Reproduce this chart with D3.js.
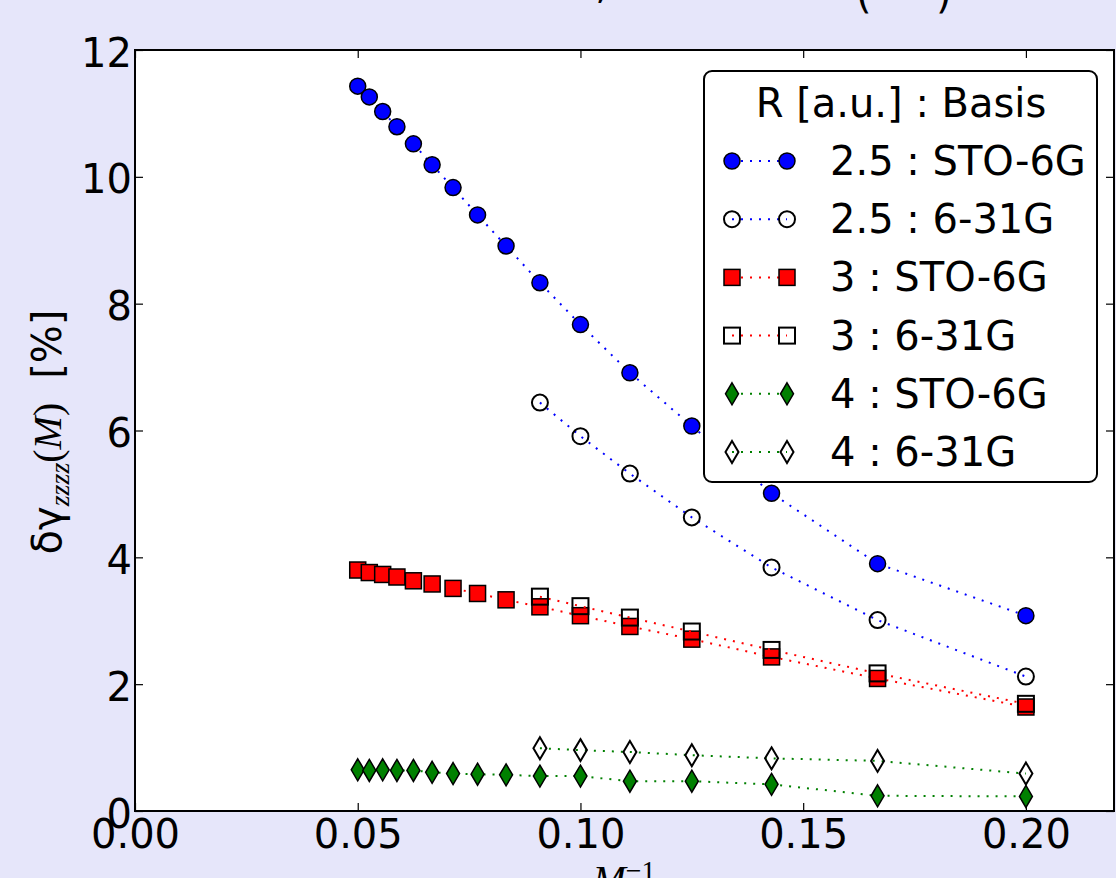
<!DOCTYPE html>
<html>
<head>
<meta charset="utf-8">
<script src="https://cdn.jsdelivr.net/npm/d3@7"></script>
<style>
  html, body { margin: 0; padding: 0; background: #e6e6fa; }
  svg { display: block; }
  text { font-family: "DejaVu Sans", sans-serif; fill: #000; }
</style>
</head>
<body>
<svg id="chart" width="1116" height="878"></svg>
<script>
// Inverse chain length M^-1 (M = 20 ... 5 for STO-6G, M = 11 ... 5 for 6-31G)
const invM_sto = [0.0500, 0.0526, 0.0556, 0.0588, 0.0625, 0.0667, 0.0714, 0.0769,
                  0.0833, 0.0909, 0.1000, 0.1111, 0.1250, 0.1429, 0.1667, 0.2000];
const invM_631 = [0.0909, 0.1000, 0.1111, 0.1250, 0.1429, 0.1667, 0.2000];

// Relative error of gamma_zzzz in percent
const r25_sto = [11.43, 11.26, 11.03, 10.79, 10.52, 10.19, 9.83, 9.40,
                 8.91, 8.33, 7.67, 6.91, 6.07, 5.01, 3.90, 3.08];
const r25_631 = [6.44, 5.91, 5.32, 4.63, 3.84, 3.01, 2.12];
const r3_sto  = [3.80, 3.76, 3.73, 3.69, 3.63, 3.58, 3.51, 3.43,
                 3.33, 3.22, 3.08, 2.91, 2.71, 2.43, 2.09, 1.64];
const r3_631  = [3.38, 3.23, 3.05, 2.83, 2.54, 2.17, 1.69];
const r4_sto  = [0.65, 0.64, 0.65, 0.64, 0.64, 0.61, 0.59, 0.58,
                 0.57, 0.55, 0.55, 0.47, 0.47, 0.42, 0.24, 0.23];
const r4_631  = [0.99, 0.96, 0.93, 0.88, 0.83, 0.79, 0.59];

const legendTitle = "R [a.u.] : Basis";
const seriesLabels = ["2.5 : STO-6G", "2.5 : 6-31G", "3 : STO-6G", "3 : 6-31G", "4 : STO-6G", "4 : 6-31G"];

const xTicks = [0.00, 0.05, 0.10, 0.15, 0.20];
const yTicks = [0, 2, 4, 6, 8, 10, 12];

const series = [
  { label: seriesLabels[0], xs: invM_sto, ys: r25_sto, color: "#0000ff", marker: "circle",  filled: true },
  { label: seriesLabels[1], xs: invM_631, ys: r25_631, color: "#0000ff", marker: "circle",  filled: false },
  { label: seriesLabels[2], xs: invM_sto, ys: r3_sto,  color: "#ff0000", marker: "square",  filled: true },
  { label: seriesLabels[3], xs: invM_631, ys: r3_631,  color: "#ff0000", marker: "square",  filled: false },
  { label: seriesLabels[4], xs: invM_sto, ys: r4_sto,  color: "#008000", marker: "diamond", filled: true },
  { label: seriesLabels[5], xs: invM_631, ys: r4_631,  color: "#008000", marker: "diamond", filled: false }
];

const svg = d3.select("#chart");
const L = 135, R = 1114, T = 50, B = 811;

const x = d3.scaleLinear().domain([0, 0.22]).range([L, 1115]);
const y = d3.scaleLinear().domain([0, 12]).range([B, T]);

// Title, largely above the top edge of the figure
const title = svg.append("text").attr("y", -2).style("font-size", "40px");
title.append("tspan").attr("x", 608).attr("text-anchor", "end").text("Linear H chain,");
title.append("tspan").attr("x", 742).attr("text-anchor", "middle").text("finite size");
title.append("tspan").attr("x", 856).attr("dy", 10).text("(");
title.append("tspan").attr("dy", -10).text("PBC");
title.append("tspan").attr("x", 936).attr("dy", 10).text(")");

// Plot area
svg.append("rect").attr("x", L).attr("y", T).attr("width", R - L).attr("height", B - T).attr("fill", "#fff");

svg.append("defs").append("clipPath").attr("id", "plotclip")
  .append("rect").attr("x", L - 12).attr("y", T - 12).attr("width", R - L + 12).attr("height", B - T + 24);

// Axes with inward ticks on all four sides
const fmtX = d3.format(".2f");
const gx = svg.append("g").attr("transform", `translate(0,${B})`)
  .call(d3.axisBottom(x).tickValues(xTicks).tickFormat(fmtX).tickSize(-8).tickPadding(9));
const gxt = svg.append("g").attr("transform", `translate(0,${T})`)
  .call(d3.axisTop(x).tickValues(xTicks).tickFormat("").tickSize(-8));
const gy = svg.append("g").attr("transform", `translate(${L},0)`)
  .call(d3.axisLeft(y).tickValues(yTicks).tickFormat(d3.format("d")).tickSize(-8).tickPadding(3));
const gyr = svg.append("g").attr("transform", `translate(${R},0)`)
  .call(d3.axisRight(y).tickValues(yTicks).tickFormat("").tickSize(-8));

[gx, gxt, gy, gyr].forEach(g => {
  g.select(".domain").remove();
  g.selectAll(".tick line").attr("stroke", "#000").attr("stroke-width", 1.2);
  g.selectAll(".tick text")
    .attr("fill", "#000")
    .style("font-family", "'DejaVu Sans', sans-serif")
    .style("font-size", "40px");
});
gy.selectAll(".tick text").attr("dy", "0.4em");
gxt.selectAll(".tick text").remove();
gyr.selectAll(".tick text").remove();

// Marker shapes
function drawMarker(g, kind, cx, cy, color, filled) {
  const fill = filled ? color : "none";
  const sw = filled ? 1.5 : 2;
  if (kind === "circle") {
    g.append("circle").attr("cx", cx).attr("cy", cy).attr("r", 8)
      .attr("fill", fill).attr("stroke", "#000").attr("stroke-width", sw);
  } else if (kind === "square") {
    g.append("rect").attr("x", cx - 8).attr("y", cy - 8).attr("width", 16).attr("height", 16)
      .attr("fill", fill).attr("stroke", "#000").attr("stroke-width", sw);
  } else {
    const w = 6.5, h = 11;
    g.append("path")
      .attr("d", `M${cx},${cy - h}L${cx + w},${cy}L${cx},${cy + h}L${cx - w},${cy}Z`)
      .attr("fill", fill).attr("stroke", "#000").attr("stroke-width", sw);
  }
}

const plot = svg.append("g").attr("clip-path", "url(#plotclip)");
const line = d3.line().x(d => x(d[0])).y(d => y(d[1]));

series.forEach(s => {
  const pts = s.xs.map((v, i) => [v, s.ys[i]]);
  const g = plot.append("g");
  g.append("path").attr("d", line(pts)).attr("fill", "none")
    .attr("stroke", s.color).attr("stroke-width", 2).attr("stroke-dasharray", "2,7");
  pts.forEach(p => drawMarker(g, s.marker, x(p[0]), y(p[1]), s.color, s.filled));
});

// Frame
svg.append("rect").attr("x", L).attr("y", T).attr("width", R - L).attr("height", B - T)
  .attr("fill", "none").attr("stroke", "#000").attr("stroke-width", 2);

// Legend
const lg = svg.append("g");
lg.append("rect").attr("x", 704).attr("y", 71).attr("width", 393).attr("height", 411)
  .attr("rx", 8).attr("ry", 8).attr("fill", "#fff").attr("stroke", "#000").attr("stroke-width", 2);
lg.append("text").attr("x", 901).attr("y", 117).attr("text-anchor", "middle")
  .style("font-size", "40px").text(legendTitle);
series.forEach((s, i) => {
  const cy = 161 + i * 58.2;
  const row = lg.append("g");
  row.append("line").attr("x1", 732).attr("x2", 787).attr("y1", cy).attr("y2", cy)
    .attr("stroke", s.color).attr("stroke-width", 2).attr("stroke-dasharray", "2,7");
  drawMarker(row, s.marker, 732, cy, s.color, s.filled);
  drawMarker(row, s.marker, 787, cy, s.color, s.filled);
  row.append("text").attr("x", 830).attr("y", cy + 14).style("font-size", "40px").text(s.label);
});

// Axis labels
const yl = svg.append("text").attr("transform", "translate(61,432) rotate(-90)")
  .attr("text-anchor", "middle").style("font-size", "40px");
yl.append("tspan").text("δγ");
yl.append("tspan").attr("dy", 8).style("font-family", "'Liberation Serif', serif")
  .style("font-style", "italic").style("font-size", "28px").text("zzzz");
yl.append("tspan").attr("dy", -8).style("font-family", "'Liberation Serif', serif").text("(");
yl.append("tspan").style("font-family", "'Liberation Serif', serif").style("font-style", "italic").text("M");
yl.append("tspan").style("font-family", "'Liberation Serif', serif").text(")");
yl.append("tspan").attr("dx", 24).text("[%]");

const xl = svg.append("text").attr("x", 624).attr("y", 893).attr("text-anchor", "middle")
  .style("font-family", "'Liberation Serif', serif").style("font-size", "40px");
xl.append("tspan").style("font-style", "italic").text("M");
xl.append("tspan").attr("dy", -13).style("font-size", "28px").text("−1");
</script>
</body>
</html>
